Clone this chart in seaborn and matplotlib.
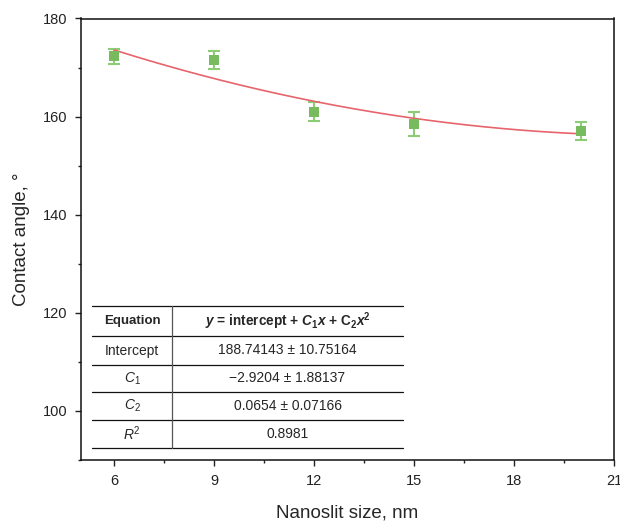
import numpy as np
import pandas as pd
import matplotlib
matplotlib.use("Agg")
import matplotlib.pyplot as plt
from matplotlib.ticker import MultipleLocator
import seaborn as sns

# Measured contact angles per nanoslit width
slit_nm = [6, 9, 12, 15, 20]
angle_deg = [172.3, 171.5, 161.0, 158.5, 157.1]
angle_err = [1.5, 1.8, 1.9, 2.4, 1.8]

# Quadratic fit coefficients (y = intercept + C1*x + C2*x^2)
intercept = 188.74143
c1 = -2.9204
c2 = 0.0654

table_rows = [
    ("Intercept", "188.74143 ± 10.75164"),
    ("$\\mathit{C}_1$", "\u22122.9204 ± 1.88137"),
    ("$\\mathit{C}_2$", "0.0654 ± 0.07166"),
    ("$\\mathit{R}^2$", "0.8981"),
]

x_ticks = [6, 9, 12, 15, 18, 21]
y_ticks = [100, 120, 140, 160, 180]

sns.set_style("ticks")
plt.rcParams["font.family"] = ["Liberation Sans", "DejaVu Sans"]
plt.rcParams["mathtext.fontset"] = "custom"
plt.rcParams["mathtext.rm"] = "Liberation Sans"
plt.rcParams["mathtext.it"] = "Liberation Sans:italic"
plt.rcParams["mathtext.bf"] = "Liberation Sans:bold"
plt.rcParams["mathtext.bfit"] = "Liberation Sans:bold:italic"

fig = plt.figure(figsize=(6.2, 5.21), dpi=100)
ax = fig.add_axes([81 / 620, 61 / 521, 533 / 620, 441.5 / 521])

df = pd.DataFrame({"x": slit_nm, "y": angle_deg, "err": angle_err})

fit_x = np.linspace(min(slit_nm), max(slit_nm), 200)
fit_df = pd.DataFrame({"x": fit_x, "y": intercept + c1 * fit_x + c2 * fit_x ** 2})

green = "#78bb5e"
ax.errorbar(df["x"], df["y"], yerr=df["err"], fmt="none", ecolor="#8ccc74",
            elinewidth=1.5, capsize=4.5, capthick=1.5, zorder=2)
sns.lineplot(data=fit_df, x="x", y="y", ax=ax, color="#e8646c", lw=1.2, zorder=3)
sns.scatterplot(data=df, x="x", y="y", ax=ax, marker="s", s=55, color=green,
                edgecolor="none", zorder=4)

ax.set_xlim(5, 21)
ax.set_ylim(90, 180)
ax.set_xticks(x_ticks)
ax.set_yticks(y_ticks)
ax.xaxis.set_minor_locator(MultipleLocator(1.5))
ax.yaxis.set_minor_locator(MultipleLocator(10))
ax.tick_params(which="major", direction="out", length=4, width=1, labelsize=10.5,
               colors="#222222", pad=6)
ax.tick_params(which="minor", direction="out", length=2.5, width=1, colors="#222222")
for s in ax.spines.values():
    s.set_visible(True)
    s.set_color("#111111")
    s.set_linewidth(1.1)

ax.set_xlabel("Nanoslit size, nm", fontsize=13.5, labelpad=12)
ax.set_ylabel("Contact angle, °", fontsize=13.5, labelpad=9)

# Fit summary table drawn inside the axes (pixel-based placement)
def ax_x(px):
    return (px - 81) / 533

def ax_y(py):
    return (460 - py) / 441.5

tr = ax.transAxes
x0, xm, x1 = ax_x(92), ax_x(172), ax_x(403)
line_ys = [306, 336, 365, 392, 420, 448]
for i, py in enumerate(line_ys):
    ax.plot([x0, x1], [ax_y(py), ax_y(py)], transform=tr, color="#111111",
            lw=0.9, clip_on=False, zorder=5)
ax.plot([xm, xm], [ax_y(306), ax_y(448)], transform=tr, color="#555555",
        lw=0.9, clip_on=False, zorder=5)

cx1 = (x0 + xm) / 2
cx2 = (xm + x1) / 2
centers = [(line_ys[i] + line_ys[i + 1]) / 2 for i in range(len(line_ys) - 1)]
fs = 10
ax.text(cx1, ax_y(centers[0]), "Equation", transform=tr, ha="center", va="center",
        fontsize=9.5, fontweight="bold")
ax.text(cx2, ax_y(centers[0]),
        "$\\mathbfit{y}$ = intercept + $\\mathbfit{C}_\\mathbf{1}\\mathbfit{x}$ + "
        "C$_\\mathbf{2}$$\\mathbfit{x}^\\mathbf{2}$",
        transform=tr, ha="center", va="center", fontsize=9.8, fontweight="bold")
for (label, val), cy in zip(table_rows, centers[1:]):
    ax.text(cx1, ax_y(cy), label, transform=tr, ha="center", va="center", fontsize=fs)
    ax.text(cx2, ax_y(cy), val, transform=tr, ha="center", va="center", fontsize=fs)

fig.savefig("out.png", dpi=100)
